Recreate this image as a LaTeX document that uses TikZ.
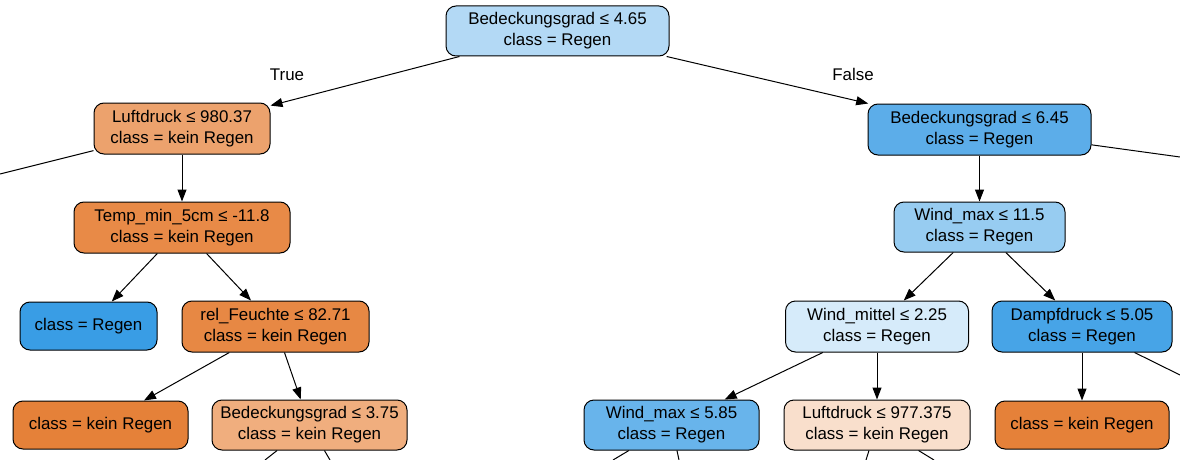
\documentclass[tikz,border=0pt]{standalone}
\usepackage{fontspec}
\setmainfont{Liberation Sans}
\usetikzlibrary{arrows.meta}

\definecolor{regen}{HTML}{399DE5}
\definecolor{kein}{HTML}{E58139}
\definecolor{regenA}{HTML}{B3D9F5}
\definecolor{regenB}{HTML}{5CADE9}
\definecolor{regenC}{HTML}{97CCF1}
\definecolor{regenD}{HTML}{D6EBFA}
\definecolor{regenE}{HTML}{47A4E7}
\definecolor{regenF}{HTML}{68B4EB}
\definecolor{keinA}{HTML}{ECA26D}
\definecolor{keinB}{HTML}{E88A47}
\definecolor{keinC}{HTML}{E78844}
\definecolor{keinD}{HTML}{F0AE7E}
\definecolor{keinE}{HTML}{F9DFCC}

\begin{document}
\begin{tikzpicture}[
		x=1pt, y=-1pt,
		every split/.style={rectangle, rounded corners=10pt, draw=black, line width=1pt,
			align=center, inner sep=0pt, font=\fontsize{16.9}{21}\selectfont},
		branch/.style={font=\fontsize{16.9}{21}\selectfont},
		>={Triangle[length=12pt, width=9pt]}
	]

	\useasboundingbox (0,0) rectangle (1180,460);

	% level 0 and 1
	\node [every split, fill=regenA, minimum width=223pt, minimum height=50pt] (root) at (557.5,31) {Bedeckungsgrad ≤ 4.65\\class = Regen};
	\node [every split, fill=keinA, minimum width=176pt, minimum height=51pt] (luft-1) at (182,128.5) {Luftdruck ≤ 980.37\\class = kein Regen};
	\node [every split, fill=regenB, minimum width=223pt, minimum height=51pt] (bedeck-2) at (979.5,129.5) {Bedeckungsgrad ≤ 6.45\\class = Regen};

	% left branch
	\node [every split, fill=keinB, minimum width=216pt, minimum height=51pt] (temp) at (182,227.5) {Temp\_min\_5cm ≤ -11.8\\class = kein Regen};
	\node [every split, fill=regen, minimum width=137pt, minimum height=48pt] (leaf-1) at (88.5,326) {class = Regen};
	\node [every split, fill=keinC, minimum width=187pt, minimum height=51pt] (feuchte) at (275.5,326.5) {rel\_Feuchte ≤ 82.71\\class = kein Regen};
	\node [every split, fill=kein, minimum width=175pt, minimum height=48pt] (leaf-2) at (100.5,425) {class = kein Regen};
	\node [every split, fill=keinD, minimum width=195pt, minimum height=50pt] (bedeck-3) at (309.5,425) {Bedeckungsgrad ≤ 3.75\\class = kein Regen};

	% right branch
	\node [every split, fill=regenC, minimum width=171pt, minimum height=50pt] (wind-1) at (979.5,227) {Wind\_max ≤ 11.5\\class = Regen};
	\node [every split, fill=regenD, minimum width=183pt, minimum height=51pt] (mittel) at (877,326.5) {Wind\_mittel ≤ 2.25\\class = Regen};
	\node [every split, fill=regenE, minimum width=180pt, minimum height=51pt] (dampf) at (1082,326.5) {Dampfdruck ≤ 5.05\\class = Regen};
	\node [every split, fill=regenF, minimum width=175pt, minimum height=50pt] (wind-2) at (671.5,425) {Wind\_max ≤ 5.85\\class = Regen};
	\node [every split, fill=keinE, minimum width=186pt, minimum height=50pt] (luft-2) at (877,425) {Luftdruck ≤ 977.375\\class = kein Regen};
	\node [every split, fill=kein, minimum width=174pt, minimum height=48pt] (leaf-3) at (1082,425) {class = kein Regen};

	\node [branch] (true) at (287,75) {True};
	\node [branch] (false) at (853,74) {False};

	% edges leaving the frame
	\coordinate (out-1) at (0,174);
	\coordinate (out-2) at (1180,157);
	\coordinate (out-3) at (1180,375);
	\coordinate (out-4) at (265,460);
	\coordinate (out-5) at (330,460);
	\coordinate (out-6) at (613,460);
	\coordinate (out-7) at (679,460);
	\coordinate (out-8) at (866,460);
	\coordinate (out-9) at (934,460);

	\foreach \a/\b in {root/luft-1, root/bedeck-2, luft-1/temp, temp/leaf-1, temp/feuchte,
		feuchte/leaf-2, feuchte/bedeck-3, bedeck-2/wind-1, wind-1/mittel, wind-1/dampf,
		mittel/wind-2, mittel/luft-2, dampf/leaf-3}
		\draw [->, line width=1pt] (\a) -- (\b);

	\foreach \a/\b in {luft-1/out-1, bedeck-2/out-2, dampf/out-3, bedeck-3/out-4, bedeck-3/out-5,
		wind-2/out-6, wind-2/out-7, luft-2/out-8, luft-2/out-9}
		\draw [line width=1pt] (\a) -- (\b);
\end{tikzpicture}
\end{document}
